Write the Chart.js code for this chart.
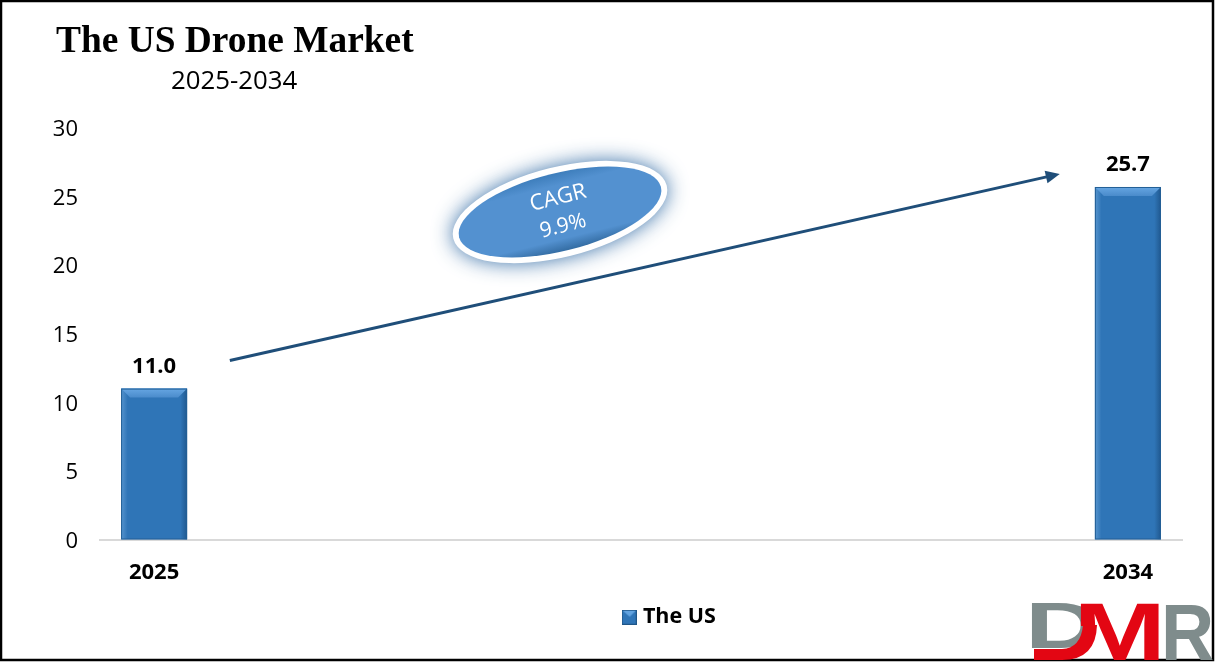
<!DOCTYPE html>
<html>
<head>
<meta charset="utf-8">
<title>The US Drone Market</title>
<script src="https://cdn.jsdelivr.net/npm/chart.js@4"></script>
<style>
  html, body { margin: 0; padding: 0; background: #fff; }
  canvas { display: block; }
</style>
</head>
<body>
<canvas id="droneChart" width="1216" height="663"></canvas>
<script>
const categories = ['2025', '', '', '', '', '', '', '', '', '2034'];
const seriesName = 'The US';
const values = [11.0, null, null, null, null, null, null, null, null, 25.7];
const yTicks = [0, 5, 10, 15, 20, 25, 30];
const titleText = 'The US Drone Market';
const subtitleText = '2025-2034';
const cagrLines = ['CAGR', '9.9%'];
// arrow ends as [category index, axis value]
const arrowFrom = [0.70, 13.05];
const arrowTo = [8.37, 26.65];

const sansFont = '"Open Sans", "Noto Sans", sans-serif';
const barBlue = '#2f75b7';

// small bevelled square for the legend
function legendSwatch() {
  const c = document.createElement('canvas');
  c.width = 15; c.height = 15;
  const g = c.getContext('2d');
  g.fillStyle = barBlue;
  g.fillRect(0, 0, 15, 15);
  g.fillStyle = '#62a3e0';
  g.beginPath();
  g.moveTo(0, 0); g.lineTo(15, 0); g.lineTo(8, 7); g.closePath();
  g.fill();
  g.strokeStyle = '#1f5688';
  g.strokeRect(0.5, 0.5, 14, 14);
  return c;
}

const framePlugin = {
  id: 'frame',
  afterLayout(chart) {
    // legend sits right of the canvas centre in the reference
    chart.legend.left += 80;
    chart.legend.right += 80;
  },
  beforeDraw(chart) {
    const ctx = chart.ctx;
    ctx.save();
    ctx.fillStyle = '#fff';
    ctx.fillRect(0, 0, chart.width, chart.height);
    ctx.fillStyle = '#000';
    ctx.textBaseline = 'alphabetic';
    ctx.font = 'bold 37.4px "Liberation Serif", serif';
    ctx.fillText(titleText, 56, 52);
    ctx.font = '25.8px ' + sansFont;
    ctx.fillText(subtitleText, 171, 89);
    ctx.restore();
  }
};

const barPlugin = {
  id: 'barDetail',
  afterDatasetsDraw(chart) {
    const ctx = chart.ctx;
    const meta = chart.getDatasetMeta(0);
    ctx.save();
    meta.data.forEach((bar, i) => {
      if (values[i] === null) return;
      const left = bar.x - bar.width / 2;
      const right = bar.x + bar.width / 2;
      const top = bar.y;
      const bottom = bar.base;
      // soft shading on the sides
      const side = ctx.createLinearGradient(left, 0, right, 0);
      side.addColorStop(0, 'rgba(120,175,225,0.55)');
      side.addColorStop(0.1, 'rgba(120,175,225,0)');
      side.addColorStop(0.9, 'rgba(20,65,110,0)');
      side.addColorStop(1, 'rgba(20,65,110,0.55)');
      ctx.fillStyle = side;
      ctx.fillRect(left, top, bar.width, bottom - top);
      // lighter bevel on top
      const bevel = ctx.createLinearGradient(0, top, 0, top + 9);
      bevel.addColorStop(0, '#66a6e2');
      bevel.addColorStop(1, '#4a8bcb');
      ctx.fillStyle = bevel;
      ctx.beginPath();
      ctx.moveTo(left, top); ctx.lineTo(right, top);
      ctx.lineTo(right - 9, top + 9); ctx.lineTo(left + 9, top + 9);
      ctx.closePath(); ctx.fill();
      ctx.strokeStyle = '#235f96';
      ctx.lineWidth = 1;
      ctx.strokeRect(left + 0.5, top + 0.5, bar.width - 1, bottom - top - 1);
      // value above the bar
      ctx.fillStyle = '#000';
      ctx.font = 'bold 22px ' + sansFont;
      ctx.textAlign = 'center';
      ctx.textBaseline = 'alphabetic';
      ctx.fillText(values[i].toFixed(1), bar.x, top - 16);
    });
    ctx.restore();
  }
};

const overlayPlugin = {
  id: 'overlay',
  afterDraw(chart) {
    const ctx = chart.ctx;
    const xs = chart.scales.x;
    const ys = chart.scales.y;
    const x1 = xs.getPixelForValue(arrowFrom[0]);
    const y1 = ys.getPixelForValue(arrowFrom[1]);
    const x2 = xs.getPixelForValue(arrowTo[0]);
    const y2 = ys.getPixelForValue(arrowTo[1]);
    const a = Math.atan2(y2 - y1, x2 - x1);

    ctx.save();
    ctx.strokeStyle = '#1f4e79';
    ctx.fillStyle = '#1f4e79';
    ctx.lineWidth = 3;
    ctx.beginPath();
    ctx.moveTo(x1, y1);
    ctx.lineTo(x2 - 10 * Math.cos(a), y2 - 10 * Math.sin(a));
    ctx.stroke();
    ctx.translate(x2, y2);
    ctx.rotate(a);
    ctx.beginPath();
    ctx.moveTo(0, 0); ctx.lineTo(-14, -6.5); ctx.lineTo(-14, 6.5);
    ctx.closePath(); ctx.fill();
    ctx.restore();

    // CAGR badge
    ctx.save();
    ctx.translate(560, 212);
    ctx.rotate(-14 * Math.PI / 180);
    ctx.shadowColor = 'rgba(40,100,160,0.9)';
    ctx.shadowBlur = 20;
    ctx.fillStyle = '#fff';
    ctx.beginPath();
    ctx.ellipse(0, 0, 110, 45, 0, 0, Math.PI * 2);
    ctx.fill();
    ctx.shadowColor = 'transparent';
    ctx.shadowBlur = 0;
    const fill = ctx.createLinearGradient(0, -38, 0, 38);
    fill.addColorStop(0, '#3f7fbd');
    fill.addColorStop(0.15, '#5391d0');
    fill.addColorStop(0.85, '#5391d0');
    fill.addColorStop(1, '#366fa6');
    ctx.fillStyle = fill;
    ctx.beginPath();
    ctx.ellipse(0, 0, 104, 39, 0, 0, Math.PI * 2);
    ctx.fill();
    ctx.fillStyle = '#fff';
    ctx.textAlign = 'center';
    ctx.textBaseline = 'middle';
    ctx.font = '22px ' + sansFont;
    ctx.fillText(cagrLines[0], 1.5, -14);
    ctx.font = '21px ' + sansFont;
    ctx.fillText(cagrLines[1], -0.5, 14.5);
    ctx.restore();

    // outer frame
    ctx.save();
    ctx.strokeStyle = '#000';
    ctx.lineWidth = 2.5;
    ctx.strokeRect(1, 1, 1212, 659);
    ctx.restore();

    // DMR logo
    ctx.save();
    ctx.textBaseline = 'alphabetic';
    ctx.font = 'bold 80px "Liberation Sans", sans-serif';
    ctx.fillStyle = '#7f8c8c';
    ctx.save();
    ctx.beginPath();
    ctx.rect(1030, 598, 53, 55);
    ctx.clip();
    ctx.translate(1025, 648);
    ctx.scale(1.3, 0.8);
    ctx.fillText('D', 0, 0);
    ctx.restore();
    ctx.save();
    ctx.translate(1161, 660);
    ctx.scale(0.92, 1.0);
    ctx.fillText('R', 0, 0);
    ctx.restore();
    ctx.fillStyle = '#e30613';
    ctx.save();
    // left leg of the M is replaced by the curved stroke below
    ctx.beginPath();
    ctx.moveTo(1075, 598); ctx.lineTo(1170, 598); ctx.lineTo(1170, 663);
    ctx.lineTo(1097, 663); ctx.lineTo(1097, 626); ctx.lineTo(1075, 626);
    ctx.closePath();
    ctx.clip();
    ctx.translate(1073.5, 660);
    ctx.scale(1.37, 1.0);
    ctx.font = 'bold 81px "Liberation Sans", sans-serif';
    ctx.fillText('M', 0, 0);
    ctx.restore();
    ctx.beginPath();
    ctx.moveTo(1034, 649);
    ctx.lineTo(1062, 649);
    ctx.quadraticCurveTo(1081, 648, 1083, 625);
    ctx.lineTo(1097, 625);
    ctx.quadraticCurveTo(1096, 660, 1062, 660);
    ctx.lineTo(1034, 660);
    ctx.closePath();
    ctx.fill();
    ctx.restore();
  }
};

new Chart(document.getElementById('droneChart'), {
  type: 'bar',
  data: {
    labels: categories,
    datasets: [{
      label: seriesName,
      data: values,
      backgroundColor: barBlue,
      barPercentage: 0.61,
      categoryPercentage: 1
    }]
  },
  options: {
    responsive: false,
    animation: false,
    layout: { padding: { top: 128, right: 34, bottom: 25 } },
    scales: {
      x: {
        grid: { display: false },
        border: { color: '#d9d9d9', width: 2 },
        afterFit(scale) { scale.height = 61; },
        ticks: {
          autoSkip: false,
          maxRotation: 0,
          color: '#000',
          padding: 12,
          font: { family: sansFont, size: 22, weight: 'bold' }
        }
      },
      y: {
        min: 0,
        max: 30,
        grid: { display: false },
        border: { display: false },
        afterFit(scale) { scale.width = 100; },
        afterBuildTicks(scale) { scale.ticks = yTicks.map(v => ({ value: v })); },
        ticks: {
          color: '#000',
          padding: 14,
          labelOffset: 2,
          font: { family: sansFont, size: 22 }
        }
      }
    },
    plugins: {
      title: { display: false },
      tooltip: { enabled: false },
      legend: {
        position: 'bottom',
        labels: {
          color: '#000',
          usePointStyle: true,
          pointStyle: legendSwatch(),
          pointStyleWidth: 6,
          boxHeight: 15,
          padding: 6,
          font: { family: sansFont, size: 21.5, weight: 'bold' }
        }
      }
    }
  },
  plugins: [framePlugin, barPlugin, overlayPlugin]
});
</script>
</body>
</html>
